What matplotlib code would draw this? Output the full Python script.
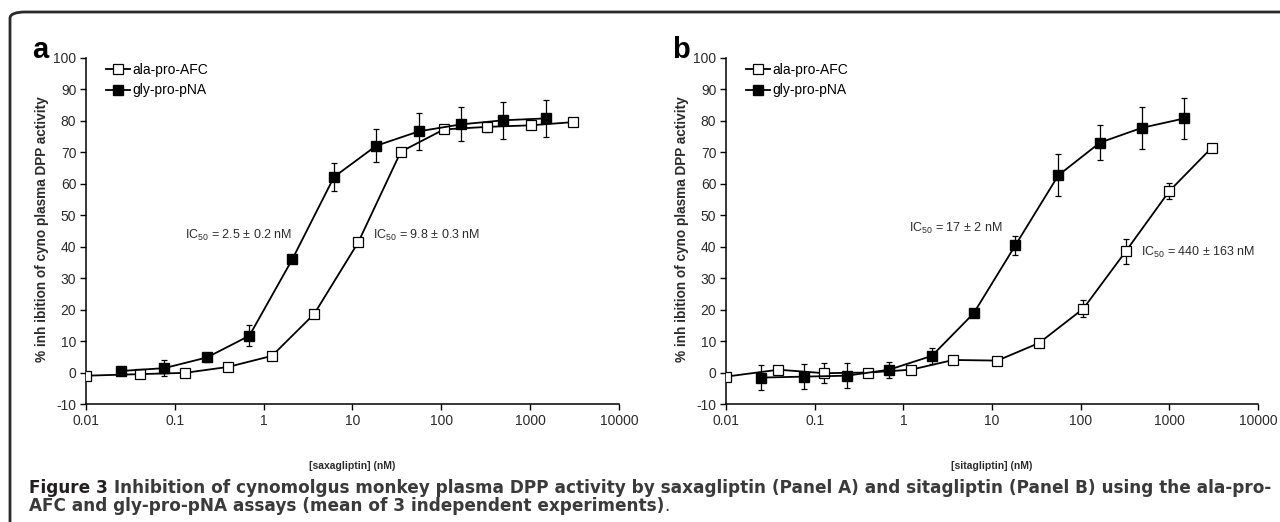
import matplotlib
matplotlib.use('Agg')
import matplotlib.pyplot as plt
from matplotlib.patches import FancyBboxPatch
from matplotlib.lines import Line2D
import numpy as np

plt.rcParams['font.family'] = 'Liberation Sans'
plt.rcParams['axes.unicode_minus'] = False
plt.rcParams['mathtext.fontset'] = 'custom'
plt.rcParams['mathtext.rm'] = 'Liberation Sans'
plt.rcParams['mathtext.it'] = 'Liberation Sans:italic'
plt.rcParams['mathtext.bf'] = 'Liberation Sans:bold'

# ---- data ----
# Panel a: saxagliptin
sax_afc_conc = [0.01, 0.041, 0.13, 0.4, 1.24, 3.7, 11.6, 35, 107, 324, 1015, 3000]
sax_afc = [-1.0, -0.5, -0.1, 1.8, 5.3, 18.6, 41.4, 70.2, 77.3, 78.1, 78.6, 79.6]
sax_afc_err = [0.3, 0.4, 0.5, 0.5, 0.5, 0.8, 1.0, 1.2, 1.0, 1.5, 1.2, 0.8]

sax_gly_conc = [0.025, 0.076, 0.23, 0.69, 2.1, 6.2, 18.5, 56, 167, 500, 1500]
sax_gly = [0.5, 1.4, 4.8, 11.7, 36.0, 62.2, 72.1, 76.7, 78.9, 80.2, 80.8]
sax_gly_err = [0.8, 2.6, 1.5, 3.4, 1.0, 4.4, 5.3, 5.8, 5.4, 5.8, 6.0]

# Panel b: sitagliptin
sita_afc_conc = [0.01, 0.039, 0.128, 0.4, 1.22, 3.66, 11.5, 34, 107, 324, 1000, 2990]
sita_afc = [-1.3, 0.9, -0.2, 0.0, 0.9, 4.0, 3.8, 9.4, 20.3, 38.6, 57.7, 71.4]
sita_afc_err = [0.5, 1.2, 3.2, 0.5, 0.8, 0.8, 0.8, 1.0, 2.7, 4.0, 2.5, 0.8]

sita_gly_conc = [0.025, 0.075, 0.23, 0.69, 2.1, 6.2, 18.3, 56, 165, 490, 1480]
sita_gly = [-1.6, -1.3, -1.0, 0.9, 5.3, 18.8, 40.4, 62.7, 73.1, 77.8, 80.8]
sita_gly_err = [4.0, 4.0, 4.0, 2.5, 2.5, 1.0, 3.0, 6.7, 5.6, 6.6, 6.6]

x_ticks = [0.01, 0.1, 1, 10, 100, 1000, 10000]
x_ticklabels = ['0.01', '0.1', '1', '10', '100', '1000', '10000']
y_ticks = list(range(-10, 101, 10))

ic50_a = [('IC$_{50}$ = 2.5 ± 0.2 nM', 0.13, 43.7), ('IC$_{50}$ = 9.8 ± 0.3 nM', 17, 43.7)]
ic50_b = [('IC$_{50}$ = 17 ± 2 nM', 1.17, 45.9), ('IC$_{50}$ = 440 ± 163 nM', 475, 38.3)]

txt = '#2b2b2b'

fig = plt.figure(figsize=(12.8, 5.22), dpi=100)

# rounded frame around the figure
frame = FancyBboxPatch((10 / 1280, 1 - 540 / 522), 1300 / 1280, 528 / 522,
                       boxstyle='round,pad=0,rounding_size=0.012',
                       transform=fig.transFigure, fill=False,
                       edgecolor='#2a2a2a', linewidth=2.0, zorder=0)
fig.patches.append(frame)


def draw_panel(ax, afc_c, afc, afc_e, gly_c, gly, gly_e, xlabel, notes, letter):
    ax.errorbar(afc_c, afc, yerr=afc_e, fmt='none', ecolor='black', elinewidth=0.9,
                capsize=2, capthick=0.9, zorder=2)
    ax.errorbar(gly_c, gly, yerr=gly_e, fmt='none', ecolor='black', elinewidth=0.9,
                capsize=2, capthick=0.9, zorder=2)
    ax.plot(afc_c, afc, color='black', lw=1.3, marker='s', markersize=7.5,
            markerfacecolor='white', markeredgecolor='black', markeredgewidth=0.9,
            zorder=3)
    ax.plot(gly_c, gly, color='black', lw=1.3, marker='s', markersize=7.5,
            markerfacecolor='black', markeredgecolor='black', zorder=4)
    ax.set_xscale('log')
    ax.set_xlim(0.01, 10000)
    ax.set_ylim(-10, 100)
    ax.set_xticks(x_ticks)
    ax.set_xticklabels(x_ticklabels)
    ax.minorticks_off()
    ax.set_yticks(y_ticks)
    for s in ['top', 'right']:
        ax.spines[s].set_visible(False)
    for s in ['left', 'bottom']:
        ax.spines[s].set_linewidth(1.1)
    ax.tick_params(direction='out', length=4, width=1, labelsize=10,
                   labelcolor=txt, pad=3)
    ax.text(0.5, -0.18, xlabel, transform=ax.transAxes, ha='center', va='center',
            fontsize=7.5, fontweight='bold', color=txt)
    ax.text(-0.083, 0.505, '% inh ibition of cyno plasma DPP activity',
            transform=ax.transAxes, rotation=90, ha='center', va='center',
            fontsize=9.8, fontweight='bold', color=txt)
    for s, xx, yy in notes:
        ax.text(xx, yy, s, ha='left', va='center', fontsize=9, color=txt)
    ax.text(-0.102, 1.0, letter, transform=ax.transAxes, ha='left', va='baseline',
            fontsize=21, fontweight='bold', color='black')
    handles = [
        Line2D([0], [0], color='black', lw=1.3, marker='s', markersize=7.5,
               markerfacecolor='white', markeredgecolor='black', markeredgewidth=0.9),
        Line2D([0], [0], color='black', lw=1.3, marker='s', markersize=7.5,
               markerfacecolor='black', markeredgecolor='black'),
    ]
    ax.legend(handles, ['ala-pro-AFC', 'gly-pro-pNA'], loc='upper left',
              bbox_to_anchor=(0.038, 0.985), frameon=False,
              fontsize=10, handlelength=1.7, handletextpad=0.15, labelspacing=0.45,
              borderpad=0, borderaxespad=0)


ax1 = fig.add_axes([86 / 1280, 1 - 404 / 522, 533 / 1280, 346 / 522])
draw_panel(ax1, sax_afc_conc, sax_afc, sax_afc_err, sax_gly_conc, sax_gly, sax_gly_err,
           '[saxagliptin] (nM)', ic50_a, 'a')

ax2 = fig.add_axes([726 / 1280, 1 - 404 / 522, 532 / 1280, 346 / 522])
draw_panel(ax2, sita_afc_conc, sita_afc, sita_afc_err, sita_gly_conc, sita_gly, sita_gly_err,
           '[sitagliptin] (nM)', ic50_b, 'b')

# caption, sized so that the first line ends near the right border
cap_head = 'Figure 3'
cap1 = ('Inhibition of cynomolgus monkey plasma DPP activity by saxagliptin (Panel A) '
        'and sitagliptin (Panel B) using the ala-pro-')
cap2 = 'AFC and gly-pro-pNA assays (mean of 3 independent experiments)'
cap_font = 'DejaVu Sans'
fs = 11
renderer = fig.canvas.get_renderer()
probe = fig.text(0, 0, cap_head + ' ' + cap1, fontsize=fs, fontweight='bold',
                 family=cap_font)
w = probe.get_window_extent(renderer).width
probe.remove()
fs = fs * (1268 - 29) / w

t = fig.text(29 / 1280, 1 - 488 / 522, cap_head, fontsize=fs, fontweight='bold',
             family=cap_font, color='#231f20', ha='left', va='center')
bb = t.get_window_extent(renderer)
sp = fig.text(0, 0, ' ', fontsize=fs, fontweight='bold', family=cap_font)
spw = sp.get_window_extent(renderer).width
sp.remove()
fig.text((bb.x1 + max(spw, 4)) / 1280, 1 - 488 / 522, cap1, fontsize=fs,
         fontweight='bold', family=cap_font, color='#3a3a3a', ha='left', va='center')
t2 = fig.text(29 / 1280, 1 - 506 / 522, cap2, fontsize=fs, fontweight='bold',
              family=cap_font, color='#3a3a3a', ha='left', va='center')
bb2 = t2.get_window_extent(renderer)
fig.text(bb2.x1 / 1280, 1 - 506 / 522, '.', fontsize=fs, family=cap_font,
         color='#3a3a3a', ha='left', va='center')

plt.savefig('out.png', dpi=100)
plt.close()
